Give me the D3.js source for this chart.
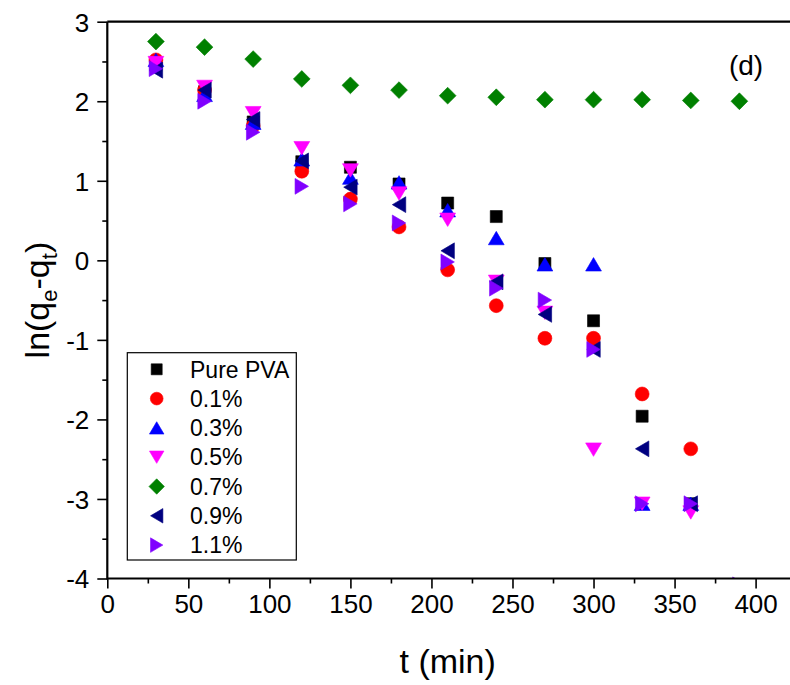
<!DOCTYPE html>
<html>
<head>
<meta charset="utf-8">
<script src="https://cdn.jsdelivr.net/npm/d3@7/dist/d3.min.js"></script>
<style>
  html, body { margin: 0; padding: 0; background: #fff; }
  svg { display: block; }
  text { font-family: "Liberation Sans", Arial, Helvetica, sans-serif; fill: #000; }
</style>
</head>
<body>
<svg id="chart" width="790" height="685"></svg>
<script>
// Sampling times (min)
const times = [30, 60, 90, 120, 150, 180, 210, 240, 270, 300, 330, 360, 390];

// ln(qe - qt) for each membrane composition (null = no measurement)
const purePVA = [2.45, 2.12, 1.74, 1.24, 1.17, 0.96, 0.72, 0.55, -0.04, -0.76, -1.96, -3.06, null];
const pct01   = [2.52, 2.14, 1.69, 1.12, 0.77, 0.42, -0.12, -0.57, -0.98, -0.98, -1.68, -2.37, null];
const pct03   = [2.52, 2.08, 1.73, 1.27, 1.04, 0.98, 0.63, 0.28, -0.05, -0.05, -3.06, -3.06, null];
const pct05   = [2.48, 2.18, 1.85, 1.41, 1.13, 0.84, 0.51, -0.27, -0.66, -2.38, -3.06, -3.17, null];
const pct07   = [2.75, 2.68, 2.53, 2.28, 2.20, 2.14, 2.07, 2.05, 2.02, 2.02, 2.02, 2.01, 2.00];
const pct09   = [2.39, 2.14, 1.77, 1.25, 0.92, 0.70, 0.12, -0.27, -0.68, -1.12, -2.37, -3.06, null];
const pct11   = [2.41, 2.00, 1.61, 0.93, 0.71, 0.47, -0.02, -0.35, -0.50, -1.12, -3.06, -3.06, -4.08];

const seriesNames = ["Pure PVA", "0.1%", "0.3%", "0.5%", "0.7%", "0.9%", "1.1%"];
const seriesValues = [purePVA, pct01, pct03, pct05, pct07, pct09, pct11];
const seriesColors = ["#000000", "#ff0000", "#0000ff", "#ff00ff", "#008000", "#000080", "#8000ff"];
const seriesShapes = ["square", "circle", "up", "down", "diamond", "left", "right"];

const xTicks = [0, 50, 100, 150, 200, 250, 300, 350, 400];
const yTicks = [-4, -3, -2, -1, 0, 1, 2, 3];

const svg = d3.select("#chart");
const L = 107.3, T = 21.7, B = 578.5;

const x = d3.scaleLinear().domain([0, 425]).range([L, L + 425 * (755.6 - 107.3) / 400]);
const y = d3.scaleLinear().domain([-4, 3]).range([B, T]);

// plain hyphen for negative numbers
const fmt = d => String(d);

// marker path generator centred on (0,0)
function shapePath(kind, s) {
  const p = d3.path();
  switch (kind) {
    case "square": { const h = s * 0.5; p.rect(-h, -h, 2 * h, 2 * h); break; }
    case "circle": { p.arc(0, 0, s * 0.58, 0, 2 * Math.PI); break; }
    case "up": { const w = s * 0.66, h = s * 0.56; p.moveTo(0, -h); p.lineTo(w, h); p.lineTo(-w, h); p.closePath(); break; }
    case "down": { const w = s * 0.66, h = s * 0.56; p.moveTo(0, h); p.lineTo(w, -h); p.lineTo(-w, -h); p.closePath(); break; }
    case "left": { const w = s * 0.56, h = s * 0.66; p.moveTo(-w, 0); p.lineTo(w, -h); p.lineTo(w, h); p.closePath(); break; }
    case "right": { const w = s * 0.56, h = s * 0.66; p.moveTo(w, 0); p.lineTo(-w, -h); p.lineTo(-w, h); p.closePath(); break; }
    case "diamond": { const h = s * 0.7; p.moveTo(0, -h); p.lineTo(h, 0); p.lineTo(0, h); p.lineTo(-h, 0); p.closePath(); break; }
  }
  return p.toString();
}

// clip region for the data
svg.append("defs").append("clipPath").attr("id", "plotClip")
  .append("rect").attr("x", L).attr("y", T).attr("width", 800 - L).attr("height", B - T);

const dataG = svg.append("g").attr("clip-path", "url(#plotClip)");
seriesValues.forEach((vals, i) => {
  const pts = times.map((t, j) => ({ t, v: vals[j] })).filter(d => d.v !== null);
  dataG.append("g").selectAll("path").data(pts).join("path")
    .attr("transform", d => `translate(${x(d.t)},${y(d.v)})`)
    .attr("d", shapePath(seriesShapes[i], 12))
    .attr("fill", seriesColors[i])
    .attr("stroke", seriesColors[i])
    .attr("stroke-width", 0.6);
});

// axes
const xMinor = d3.range(25, 425, 50);
const yMinor = d3.range(-3.5, 3, 1);

const xAxis = svg.append("g").attr("transform", `translate(0,${B})`)
  .call(d3.axisBottom(x).tickValues(xTicks).tickSize(10).tickPadding(6).tickFormat(fmt));
svg.append("g").attr("transform", `translate(0,${B})`)
  .call(d3.axisBottom(x).tickValues(xMinor).tickSize(5).tickFormat(""));
const yAxis = svg.append("g").attr("transform", `translate(${L},0)`)
  .call(d3.axisLeft(y).tickValues(yTicks).tickSize(10).tickPadding(8).tickFormat(fmt));
svg.append("g").attr("transform", `translate(${L},0)`)
  .call(d3.axisLeft(y).tickValues(yMinor).tickSize(5).tickFormat(""));

svg.selectAll(".domain").remove();
svg.selectAll(".tick line").attr("stroke", "#000").attr("stroke-width", 1.6);
xAxis.selectAll(".tick text").attr("font-size", 26).attr("dy", "0.72em");
yAxis.selectAll(".tick text").attr("font-size", 26).attr("dy", "0.36em");

// frame
svg.append("path")
  .attr("d", `M${L},${T}H800M${L},${T}V${B}H800`)
  .attr("fill", "none").attr("stroke", "#000").attr("stroke-width", 2.2);

// axis titles
svg.append("text").attr("x", (L + 788) / 2).attr("y", 673)
  .attr("text-anchor", "middle").attr("font-size", 34).text("t (min)");

const yt = svg.append("text")
  .attr("transform", `translate(49,${(T + B) / 2}) rotate(-90)`)
  .attr("text-anchor", "middle").attr("font-size", 34);
yt.append("tspan").text("ln(q");
yt.append("tspan").attr("font-size", 22).attr("dy", 8).text("e");
yt.append("tspan").attr("dy", -8).text("-q");
yt.append("tspan").attr("font-size", 22).attr("dy", 8).text("t");
yt.append("tspan").attr("dy", -8).text(")");

// panel label
svg.append("text").attr("x", 746).attr("y", 75).attr("text-anchor", "middle")
  .attr("font-size", 28).text("(d)");

// legend
const leg = svg.append("g");
leg.append("rect").attr("x", 127.3).attr("y", 352.7).attr("width", 169).attr("height", 207.3)
  .attr("fill", "#fff").attr("stroke", "#000").attr("stroke-width", 1.2);
seriesNames.forEach((name, i) => {
  const cy = 369.3 + i * 29.3;
  leg.append("path").attr("transform", `translate(156.7,${cy})`)
    .attr("d", shapePath(seriesShapes[i], 11))
    .attr("fill", seriesColors[i]).attr("stroke", seriesColors[i]).attr("stroke-width", 0.6);
  leg.append("text").attr("x", 190).attr("y", cy).attr("dy", "0.36em")
    .attr("font-size", 23).text(name);
});
</script>
</body>
</html>
